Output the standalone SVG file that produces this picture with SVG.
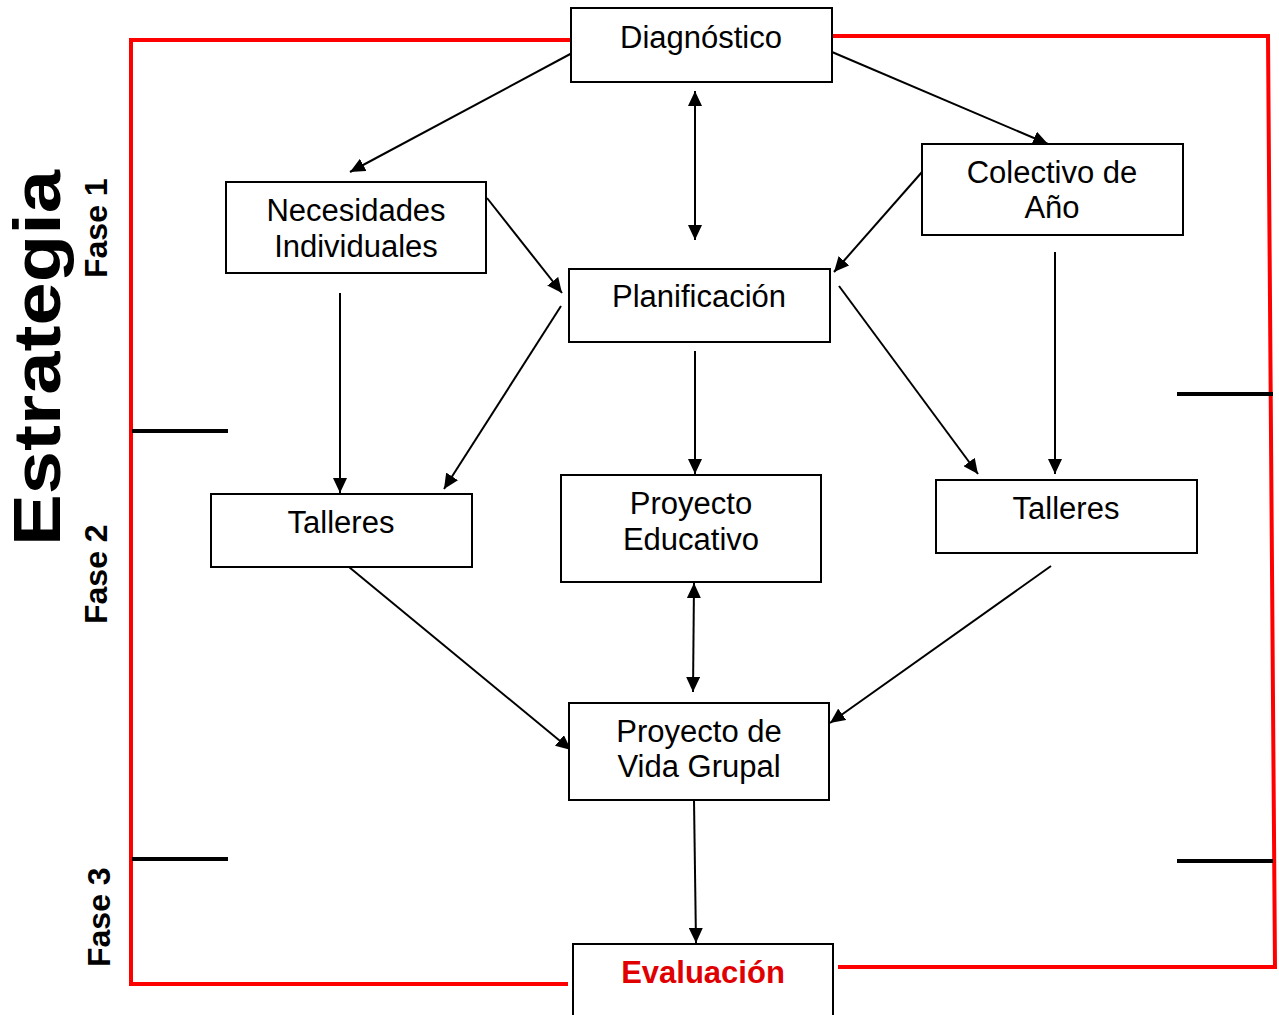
<svg xmlns="http://www.w3.org/2000/svg" width="1279" height="1015" viewBox="0 0 1279 1015">
  <style>
    .box { fill: #fff; stroke: #000; stroke-width: 2; }
    .lbl { font-family: "Liberation Sans", Arial, sans-serif; font-size: 31px; fill: #000; text-anchor: middle; }
    .eval { font-family: "Liberation Sans", Arial, sans-serif; font-size: 31px; font-weight: bold; fill: #e00000; text-anchor: middle; }
    .side { font-family: "Liberation Sans", Arial, sans-serif; font-weight: bold; fill: #000; }
    .conn { stroke: #000; stroke-width: 2; fill: none; marker-end: url(#arr); }
    .both { marker-start: url(#arr); }
    .red { stroke: #f00; stroke-width: 4; fill: none; }
    .tick { stroke: #000; stroke-width: 4; }
  </style>
  <defs>
    <marker id="arr" markerUnits="userSpaceOnUse" markerWidth="16" markerHeight="14" refX="15" refY="7" orient="auto-start-reverse">
      <path d="M0,0 L15,7 L0,14 z" fill="#000"/>
    </marker>
  </defs>
  <rect width="1279" height="1015" fill="#fff"/>

  <g id="frame">
    <polyline class="red" points="570,40 131,40 131,984 568,984"/>
    <polyline class="red" points="830,36 1268,36 1275,967 838,967"/>
    <line class="tick" x1="132" y1="431" x2="228" y2="431"/>
    <line class="tick" x1="132" y1="859" x2="228" y2="859"/>
    <line class="tick" x1="1177" y1="394" x2="1273" y2="394"/>
    <line class="tick" x1="1177" y1="861" x2="1273" y2="861"/>
  </g>

  <g id="side-labels">
    <text class="side" font-size="66" transform="translate(60,546) rotate(-90)" textLength="376" lengthAdjust="spacingAndGlyphs">Estrategia</text>
    <text class="side" font-size="32" transform="translate(107,278) rotate(-90)">Fase 1</text>
    <text class="side" font-size="32" transform="translate(107,624) rotate(-90)">Fase 2</text>
    <text class="side" font-size="32" transform="translate(110,967) rotate(-90)">Fase 3</text>
  </g>

  <g id="connectors">
    <line class="conn" x1="574" y1="52" x2="350" y2="172"/>
    <line class="conn" x1="832" y1="52" x2="1048" y2="144"/>
    <line class="conn both" x1="695" y1="91" x2="695" y2="240"/>
    <line class="conn" x1="487" y1="198" x2="562" y2="293"/>
    <line class="conn" x1="922" y1="172" x2="834" y2="272"/>
    <line class="conn" x1="340" y1="293" x2="340" y2="493"/>
    <line class="conn" x1="561" y1="306" x2="444" y2="489"/>
    <line class="conn" x1="695" y1="351" x2="695" y2="474"/>
    <line class="conn" x1="839" y1="286" x2="978" y2="474"/>
    <line class="conn" x1="1055" y1="252" x2="1055" y2="474"/>
    <line class="conn both" x1="694" y1="583" x2="693" y2="692"/>
    <line class="conn" x1="349" y1="567" x2="571" y2="750"/>
    <line class="conn" x1="1051" y1="566" x2="830" y2="723"/>
    <line class="conn" x1="694" y1="800" x2="696" y2="943"/>
  </g>

  <g id="diagnostico">
    <rect class="box" x="571" y="8" width="261" height="74"/>
    <text class="lbl" x="701" y="48">Diagnóstico</text>
  </g>
  <g id="necesidades">
    <rect class="box" x="226" y="182" width="260" height="91"/>
    <text class="lbl" x="356" y="221">Necesidades</text>
    <text class="lbl" x="356" y="257">Individuales</text>
  </g>
  <g id="colectivo">
    <rect class="box" x="922" y="144" width="261" height="91"/>
    <text class="lbl" x="1052" y="183">Colectivo de</text>
    <text class="lbl" x="1052" y="218">Año</text>
  </g>
  <g id="planificacion">
    <rect class="box" x="569" y="269" width="261" height="73"/>
    <text class="lbl" x="699" y="307">Planificación</text>
  </g>
  <g id="talleres-izq">
    <rect class="box" x="211" y="494" width="261" height="73"/>
    <text class="lbl" x="341" y="533">Talleres</text>
  </g>
  <g id="proyecto-educativo">
    <rect class="box" x="561" y="475" width="260" height="107"/>
    <text class="lbl" x="691" y="514">Proyecto</text>
    <text class="lbl" x="691" y="550">Educativo</text>
  </g>
  <g id="talleres-der">
    <rect class="box" x="936" y="480" width="261" height="73"/>
    <text class="lbl" x="1066" y="519">Talleres</text>
  </g>
  <g id="proyecto-vida">
    <rect class="box" x="569" y="703" width="260" height="97"/>
    <text class="lbl" x="699" y="742">Proyecto de</text>
    <text class="lbl" x="699" y="777">Vida Grupal</text>
  </g>
  <g id="evaluacion">
    <rect class="box" x="573" y="944" width="260" height="90"/>
    <text class="eval" x="703" y="983">Evaluación</text>
  </g>
</svg>
